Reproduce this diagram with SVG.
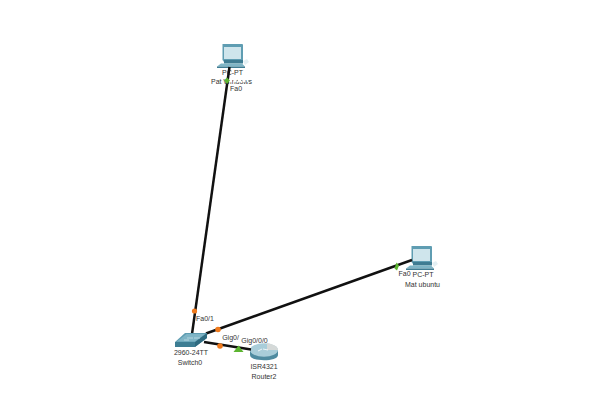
<svg xmlns="http://www.w3.org/2000/svg" width="598" height="401" viewBox="0 0 598 401">
<style>
text{font-family:"Liberation Sans",Arial,sans-serif;font-size:7px;fill:#333;text-anchor:middle}
.l{fill:none;stroke:#111;stroke-width:2.5}
.o{fill:#f07a1c}
.g{fill:#5cb531}
</style>
<defs>
<g id="pc">
<path d="M-9.500 -11H10.500L11 -10V7H-8L-9.500 5Z" fill="#5f9db2"/>
<rect x="-8" y="-8" width="17" height="12" fill="#cfe5ec"/>
<path d="M-8 5H11V8.500H-8Z" fill="#3f7c92"/>
<path d="M-11 8.500H10L13 11.500H-15Z" fill="#7fb5c6"/>
<path d="M-15 11.500H13V13H-15Z" fill="#3f7c92"/>
<path d="M11 6L15 4L17 7L13 10Z" fill="#e3eff3"/>
</g>
</defs>
<rect width="598" height="401" fill="#fff"/>
<g id="pc-top">
<use href="#pc" x="232" y="55"/>
<text x="232.500" y="74.500">PC-PT</text>
<text x="231.500" y="83.500">Pat Windows</text>
<path d="M229 80.500h19" stroke="#fff" stroke-width="3.500" stroke-dasharray="3 1.500"/>
<text x="236" y="90.500">Fa0</text>
</g>
<g id="pc-right">
<use href="#pc" x="421" y="257"/>
<text x="404.500" y="276">Fa0</text>
<text x="423" y="276.500">PC-PT</text>
<text x="422.500" y="287">Mat ubuntu</text>
</g>
<g id="router">
<path d="M250 350V355C250 362 278 362 278 355V350Z" fill="#4f8ba0"/>
<ellipse cx="264" cy="350" rx="14" ry="6.800" fill="#a9cdd9"/>
<path d="M267 343.300C274 344 278 347 278 350L267 350Z" fill="#d5d9d8"/>
<path d="M258 351l4-2M263 349l5 1" stroke="#fff" stroke-width=".8"/>
<text x="254.500" y="342.500">Gig0/0/0</text>
<text x="264" y="369">ISR4321</text>
<text x="264" y="379">Router2</text>
</g>
<g id="connectors">
<path class="l" d="M229.500 67L192 334"/>
<path class="l" d="M412 260L206 333.500"/>
<path class="l" d="M204 342L251 349.500"/>
<circle class="o" cx="194.500" cy="311" r="2.600"/>
<circle class="o" cx="218" cy="329.500" r="2.800"/>
<circle class="o" cx="220" cy="346" r="2.800"/>
<path class="g" d="M238.500 345.500L243.500 352H233.500Z"/>
<path class="g" d="M396.500 262.500L399 265.500L397 270.500L394.500 268.500Z"/>
<path class="g" d="M227 77.500L230 80.500L227 84L224 80.500Z"/>
</g>
<g id="switch">
<path d="M175 342L185 333H207L207 338L195 347H175Z" fill="#5f9db2"/>
<path d="M175 342H195V347H175Z" fill="#3d7d93"/>
<path d="M195 342L207 333V338L195 347Z" fill="#2f6b80"/>
<path d="M177 341.500L186.500 334H205L195 341.500Z" fill="#7fb5c6"/>
<path d="M187 338h6M194 338h6M184 340h5" stroke="#cfe3ea" stroke-width=".7"/>
<text x="191" y="355">2960-24TT</text>
<text x="190" y="364.500">Switch0</text>
<text x="205" y="320.500">Fa0/1</text>
<text x="230.500" y="339.500">Gig0/</text>
</g>
</svg>
